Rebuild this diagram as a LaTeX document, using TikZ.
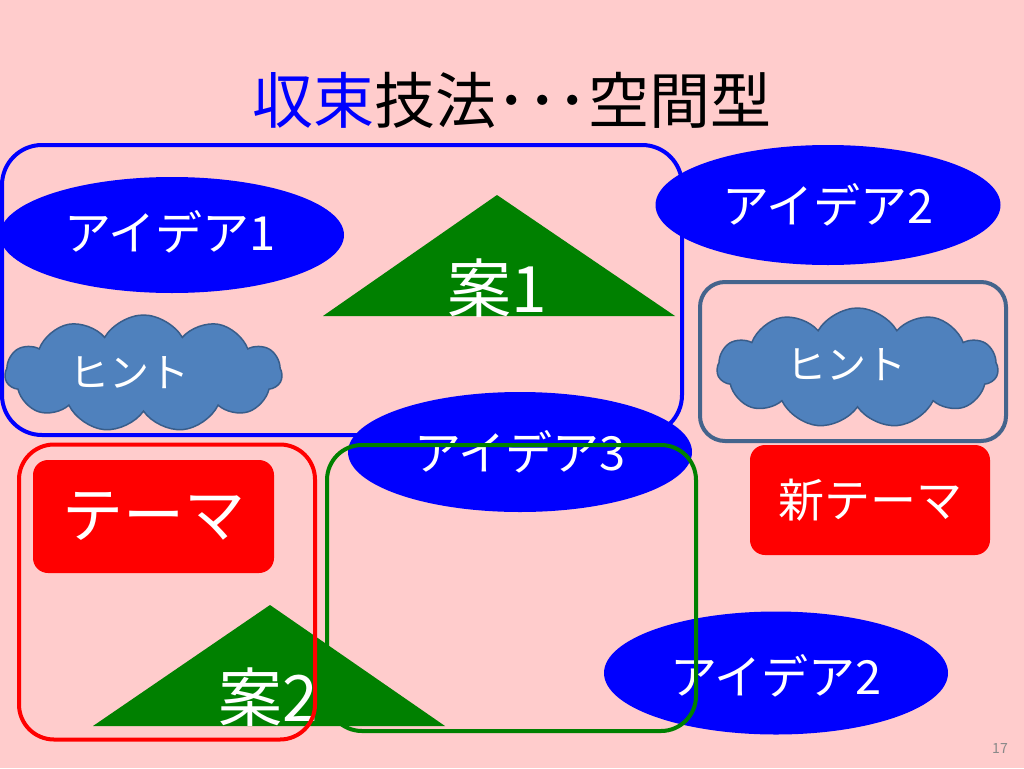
\documentclass[tikz,border=0pt]{standalone}
\usepackage{fontspec}
\setmainfont{Noto Sans CJK JP}
\usetikzlibrary{shapes.geometric,shapes.symbols}
\definecolor{bg}{RGB}{255,204,204}
\definecolor{myblue}{RGB}{0,0,255}
\definecolor{mygreen}{RGB}{0,128,0}
\definecolor{cloudfill}{RGB}{79,129,189}
\definecolor{clouddraw}{RGB}{56,93,138}
\definecolor{hintframe}{RGB}{68,100,140}
\definecolor{pagegray}{RGB}{137,137,137}
\tikzset{
  idea/.style={ellipse, fill=myblue, inner sep=0pt, text=white, font=\fontsize{47}{50}\selectfont},
  hint/.style={cloud, cloud puffs=11, cloud puff arc=120, cloud ignores aspect, fill=cloudfill, draw=clouddraw, line width=1.5pt, inner sep=0pt, text=white},
  hinttext/.style={text=white, inner sep=0pt, font=\fontsize{40}{44}\selectfont},
  boxframe/.style={rectangle, line width=4pt, rounded corners=35pt, inner sep=0pt},
  themebox/.style={rectangle, fill=red, rounded corners=15pt, inner sep=0pt, text=white},
  trilabel/.style={text=white, inner sep=0pt, font=\fontsize{64}{68}\selectfont},
}
\begin{document}
\begin{tikzpicture}[x=1pt,y=-1pt]
\useasboundingbox (0,0) rectangle (1024,768);
\fill[bg] (0,0) rectangle (1024,768);
% title
\node[inner sep=0pt, font=\fontsize{61}{64}\selectfont] (title) at (512,100) {{\color{myblue}収束}技法･･･空間型};
% blue frame
\node[boxframe, draw=myblue, rounded corners=40pt, minimum width=680pt, minimum height=290pt] (bluebox) at (342,290) {};
\node[idea, minimum width=344pt, minimum height=116pt] (idea1) at (172,235) {};
\node[text=white, inner sep=0pt, font=\fontsize{47}{50}\selectfont] (idea1t) at (170,232) {アイデア1};
\fill[mygreen] (323,316) -- (497,195) -- (675,316) -- cycle;
\node[trilabel] (an1) at (497,288) {案1};
\node[hint, minimum width=277pt, minimum height=117pt] (hint1) at (143.5,373.5) {};
\node[hinttext] (hint1t) at (129,373) {ヒント};
% right column
\node[idea, minimum width=345pt, minimum height=120pt] (idea2a) at (828,205) {};
\node[text=white, inner sep=0pt, font=\fontsize{47}{50}\selectfont] (idea2at) at (828,205) {アイデア2};
\node[boxframe, draw=hintframe, rounded corners=25pt, minimum width=306pt, minimum height=159pt] (hintbox) at (853,361.5) {};
\node[hint, minimum width=281pt, minimum height=120pt] (hint2) at (857.5,368) {};
\node[hinttext] (hint2t) at (846,365) {ヒント};
\node[themebox, minimum width=240pt, minimum height=110pt, font=\fontsize{46}{50}\selectfont] (newtheme) at (870,500) {新テーマ};
% lower part
\node[themebox, minimum width=241pt, minimum height=113pt, font=\fontsize{61}{64}\selectfont] (theme) at (153.5,516.5) {テーマ};
\node[idea, minimum width=344pt, minimum height=120pt] (idea3) at (520,452) {アイデア3};
\node[idea, minimum width=344pt, minimum height=123pt] (idea2b) at (776,673) {};
\node[text=white, inner sep=0pt, font=\fontsize{47}{50}\selectfont] (idea2bt) at (776,676) {アイデア2};
\node[boxframe, draw=mygreen, minimum width=369pt, minimum height=286pt] (greenbox) at (511.5,588) {};
\fill[mygreen] (93,726) -- (270,605) -- (445,726) -- cycle;
\node[trilabel] (an2) at (268,697) {案2};
\node[boxframe, draw=red, minimum width=296pt, minimum height=295pt] (redbox) at (167,592) {};
% page number
\node[text=pagegray, inner sep=0pt, font=\fontsize{14}{16}\selectfont] (pagenum) at (1000,748) {17};
\end{tikzpicture}
\end{document}
